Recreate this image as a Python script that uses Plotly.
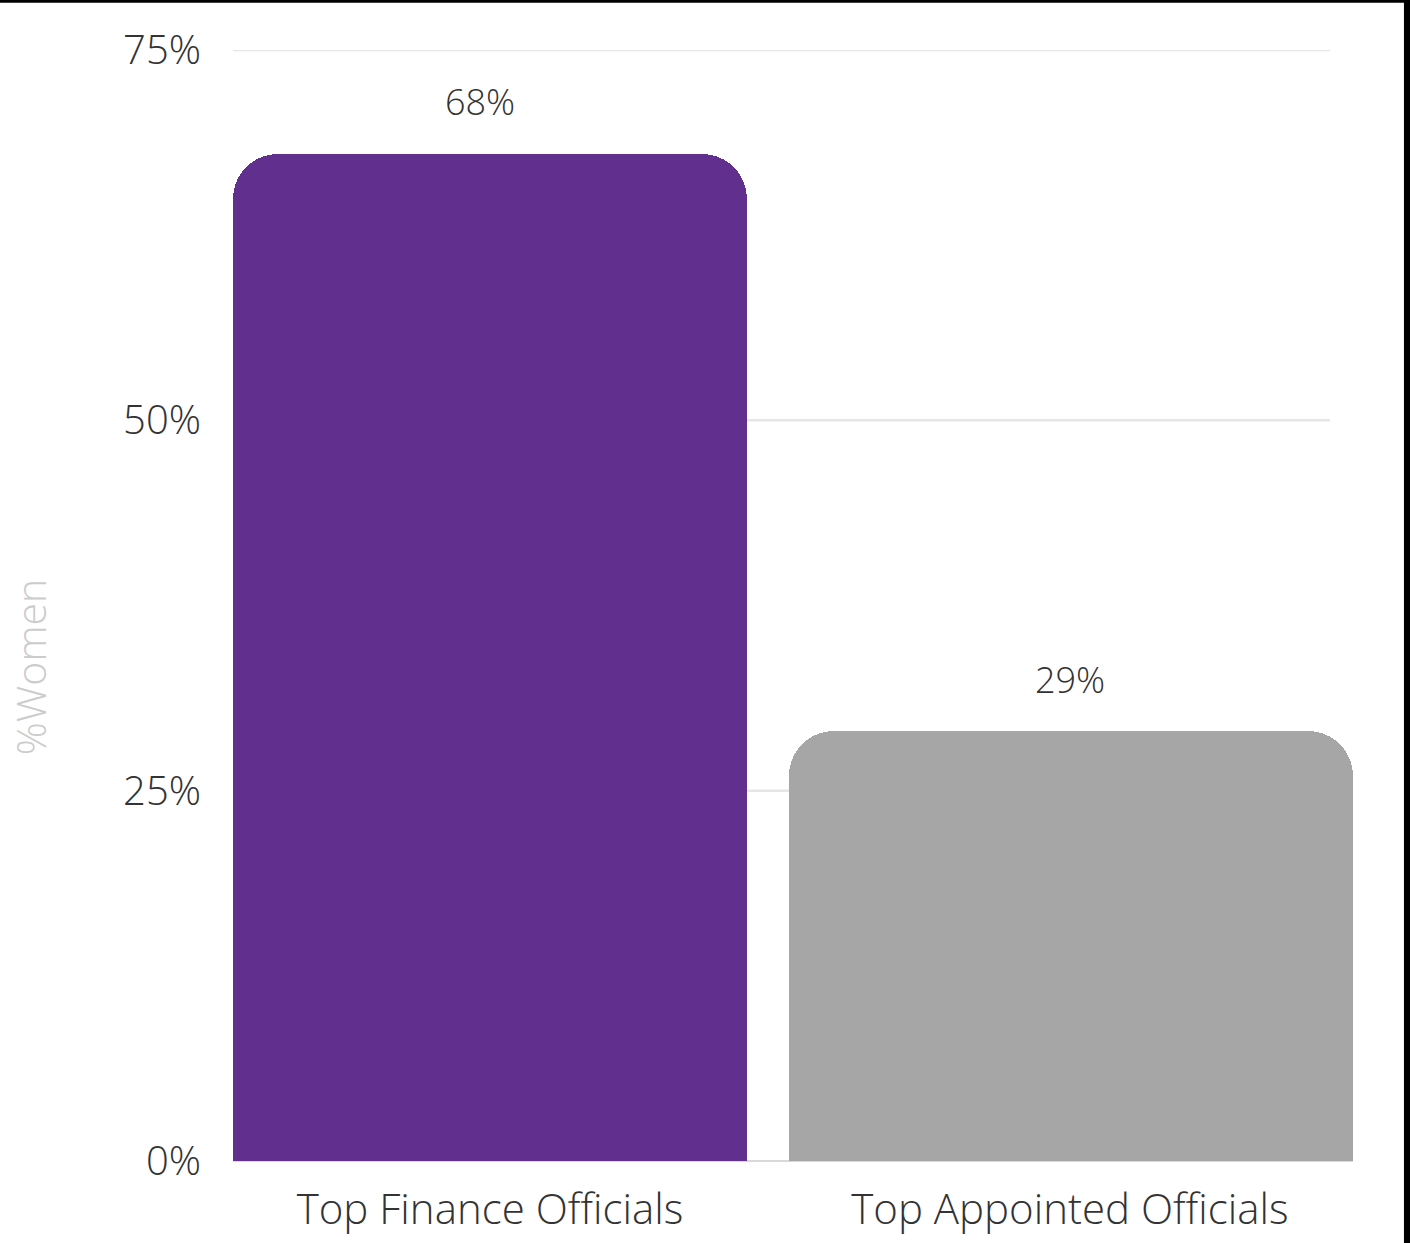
import plotly.graph_objects as go

# Share of women by official type
categories = ["Top Finance Officials", "Top Appointed Officials"]
values = [68, 29]
value_labels = ["68%", "29%"]
bar_colors = ["#61308e", "#a6a6a6"]
tick_values = [0, 25, 50, 75]
tick_labels = ["0%", "25%", "50%", "75%"]
axis_title = "%Women"

FONT = "Open Sans"

fig = go.Figure()
fig.add_trace(go.Bar(
    x=[0, 1],
    y=values,
    marker=dict(color=bar_colors, line=dict(width=0)),
    offset=[-0.443, -0.484],
    width=[0.886, 0.972],
    hoverinfo="skip",
))

# value labels above each bar
for i, (v, lab) in enumerate(zip(values, value_labels)):
    fig.add_annotation(
        x=i - (0.017 if i == 0 else 0), y=v, text=lab, showarrow=False,
        yshift=52, font=dict(family=FONT, size=36, color="#333333", weight=300),
    )

# vertical axis title, placed a bit below the middle of the plot
fig.add_annotation(
    xref="paper", yref="paper", x=-0.181, y=0.4446, text=axis_title,
    xanchor="center", yanchor="middle",
    textangle=-90, showarrow=False,
    font=dict(family=FONT, size=41, color="#cccccc", weight=300),
)

# horizontal gridlines (shorter than the bar area)
for t in tick_values[1:]:
    fig.add_shape(
        type="line", xref="paper", yref="y", x0=0, x1=0.9795, y0=t, y1=t,
        line=dict(color="#e6e6e6", width=2.5), layer="below",
    )

# thin frame strips along the top and right edge
fig.add_shape(type="rect", xref="paper", yref="paper", x0=-0.25, x1=1.06,
              y0=1.0425, y1=1.06, fillcolor="black", line=dict(width=0))
fig.add_shape(type="rect", xref="paper", yref="paper", x0=1.0455, x1=1.06,
              y0=-0.1, y1=1.06, fillcolor="black", line=dict(width=0))

fig.update_layout(
    width=1410, height=1243,
    margin=dict(l=233, r=57, t=50, b=82, autoexpand=False),
    paper_bgcolor="white", plot_bgcolor="white",
    showlegend=False, bargap=0,
    xaxis=dict(
        range=[-0.443, 1.488], tickvals=[0, 1], ticktext=categories,
        showgrid=False, zeroline=False, showline=False, ticks="",
        automargin=False,
        tickfont=dict(family=FONT, size=42, color="#333333", weight=300),
        ticklabelstandoff=20,
    ),
    yaxis=dict(
        range=[0, 75], tickvals=tick_values, ticktext=tick_labels,
        showgrid=False, zeroline=True, zerolinecolor="#d9d9d9", zerolinewidth=2,
        showline=False, ticks="", automargin=False,
        tickfont=dict(family=FONT, size=40, color="#333333", weight=300),
        ticklabelstandoff=31,
    ),
    barcornerradius=45,
)

fig.write_html("out.html")
